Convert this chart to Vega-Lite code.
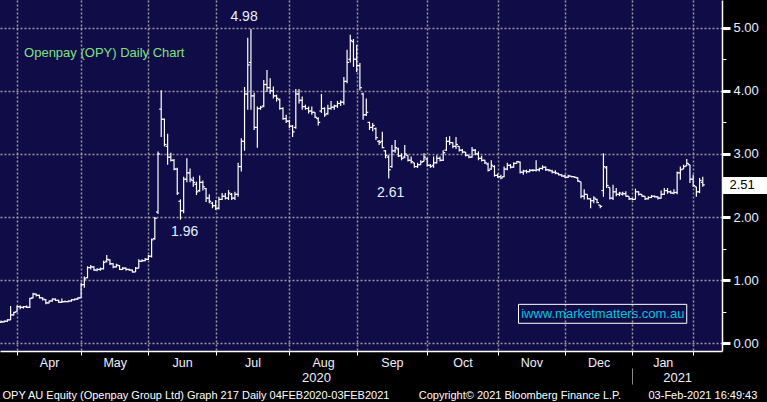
{
  "$schema": "https://vega.github.io/schema/vega-lite/v6.json",
  "width": 722,
  "height": 351,
  "autosize": {"type": "none"},
  "padding": {"left": 0, "top": 0, "right": 45, "bottom": 51},
  "background": "#000000",
  "view": {"fill": "#100c48", "stroke": null},
  "config": {"font": "Liberation Sans", "axis": {"labelFont": "Liberation Sans"}},
  "datasets": {
    "bars": [
      {"t":-1,"o":0.33,"h":0.36,"l":0.32,"c":0.34},{"t":0,"o":0.34,"h":0.36,"l":0.33,"c":0.35},{"t":1,"o":0.35,"h":0.38,"l":0.34,"c":0.37},{"t":2,"o":0.37,"h":0.59,"l":0.37,"c":0.45},{"t":3,"o":0.45,"h":0.5,"l":0.44,"c":0.49},
      {"t":4,"o":0.5,"h":0.6,"l":0.49,"c":0.58},{"t":5,"o":0.58,"h":0.6,"l":0.54,"c":0.57},{"t":6,"o":0.57,"h":0.59,"l":0.55,"c":0.58},{"t":7,"o":0.58,"h":0.6,"l":0.56,"c":0.57},{"t":8,"o":0.57,"h":0.72,"l":0.56,"c":0.71},
      {"t":9,"o":0.72,"h":0.8,"l":0.71,"c":0.78},{"t":10,"o":0.78,"h":0.79,"l":0.74,"c":0.76},{"t":11,"o":0.76,"h":0.77,"l":0.71,"c":0.72},{"t":12,"o":0.72,"h":0.73,"l":0.68,"c":0.7},{"t":13,"o":0.69,"h":0.7,"l":0.62,"c":0.64},
      {"t":14,"o":0.64,"h":0.68,"l":0.63,"c":0.67},{"t":15,"o":0.67,"h":0.71,"l":0.66,"c":0.7},{"t":16,"o":0.7,"h":0.71,"l":0.67,"c":0.68},{"t":17,"o":0.68,"h":0.69,"l":0.64,"c":0.65},{"t":18,"o":0.65,"h":0.71,"l":0.64,"c":0.66},
      {"t":19,"o":0.66,"h":0.68,"l":0.65,"c":0.66},{"t":20,"o":0.66,"h":0.68,"l":0.65,"c":0.67},{"t":21,"o":0.67,"h":0.7,"l":0.66,"c":0.69},{"t":22,"o":0.69,"h":0.71,"l":0.68,"c":0.7},{"t":23,"o":0.7,"h":0.73,"l":0.69,"c":0.72},
      {"t":24,"o":0.72,"h":0.96,"l":0.72,"c":0.93},{"t":25,"o":0.93,"h":1.06,"l":0.88,"c":1.02},{"t":26,"o":1.04,"h":1.22,"l":1.03,"c":1.2},{"t":27,"o":1.2,"h":1.24,"l":1.17,"c":1.21},{"t":28,"o":1.21,"h":1.22,"l":1.15,"c":1.16},
      {"t":29,"o":1.16,"h":1.19,"l":1.14,"c":1.17},{"t":30,"o":1.17,"h":1.2,"l":1.15,"c":1.18},{"t":31,"o":1.18,"h":1.31,"l":1.17,"c":1.28},{"t":32,"o":1.3,"h":1.4,"l":1.28,"c":1.33},{"t":33,"o":1.32,"h":1.33,"l":1.24,"c":1.26},
      {"t":34,"o":1.26,"h":1.27,"l":1.19,"c":1.21},{"t":35,"o":1.21,"h":1.26,"l":1.2,"c":1.24},{"t":36,"o":1.23,"h":1.24,"l":1.16,"c":1.17},{"t":37,"o":1.17,"h":1.21,"l":1.16,"c":1.19},{"t":38,"o":1.19,"h":1.2,"l":1.15,"c":1.17},
      {"t":39,"o":1.17,"h":1.18,"l":1.15,"c":1.16},{"t":40,"o":1.16,"h":1.17,"l":1.12,"c":1.13},{"t":41,"o":1.13,"h":1.21,"l":1.13,"c":1.19},{"t":42,"o":1.19,"h":1.33,"l":1.19,"c":1.3},{"t":43,"o":1.3,"h":1.33,"l":1.29,"c":1.31},
      {"t":44,"o":1.31,"h":1.35,"l":1.3,"c":1.33},{"t":45,"o":1.33,"h":1.4,"l":1.32,"c":1.38},{"t":46,"o":1.38,"h":1.66,"l":1.36,"c":1.64},{"t":47,"o":1.66,"h":2.0,"l":1.64,"c":1.98},{"t":48,"o":2.08,"h":3.04,"l":2.05,"c":3.0},
      {"t":49,"o":3.71,"h":4.01,"l":3.27,"c":3.55},{"t":50,"o":3.55,"h":3.56,"l":3.12,"c":3.15},{"t":51,"o":3.12,"h":3.32,"l":2.83,"c":2.95},{"t":52,"o":2.95,"h":3.02,"l":2.88,"c":2.9},{"t":53,"o":2.9,"h":2.92,"l":2.74,"c":2.76},
      {"t":54,"o":2.76,"h":2.78,"l":2.35,"c":2.38},{"t":55,"o":2.25,"h":2.28,"l":1.96,"c":2.1},{"t":56,"o":2.1,"h":2.64,"l":2.06,"c":2.6},{"t":57,"o":2.6,"h":2.93,"l":2.55,"c":2.7},{"t":58,"o":2.7,"h":2.77,"l":2.55,"c":2.6},
      {"t":59,"o":2.58,"h":2.64,"l":2.48,"c":2.55},{"t":60,"o":2.52,"h":2.56,"l":2.35,"c":2.4},{"t":61,"o":2.42,"h":2.66,"l":2.4,"c":2.55},{"t":62,"o":2.55,"h":2.58,"l":2.42,"c":2.48},{"t":63,"o":2.45,"h":2.46,"l":2.24,"c":2.3},
      {"t":64,"o":2.3,"h":2.36,"l":2.22,"c":2.25},{"t":65,"o":2.22,"h":2.24,"l":2.14,"c":2.18},{"t":66,"o":2.18,"h":2.27,"l":2.11,"c":2.14},{"t":67,"o":2.14,"h":2.32,"l":2.12,"c":2.28},{"t":68,"o":2.28,"h":2.38,"l":2.27,"c":2.33},
      {"t":69,"o":2.33,"h":2.38,"l":2.28,"c":2.3},{"t":70,"o":2.3,"h":2.43,"l":2.27,"c":2.38},{"t":71,"o":2.36,"h":2.38,"l":2.27,"c":2.3},{"t":72,"o":2.3,"h":2.4,"l":2.27,"c":2.36},{"t":73,"o":2.36,"h":2.86,"l":2.32,"c":2.8},
      {"t":74,"o":2.8,"h":3.25,"l":2.72,"c":3.2},{"t":75,"o":3.2,"h":4.06,"l":3.05,"c":3.95},{"t":76,"o":3.95,"h":4.84,"l":3.7,"c":4.41},{"t":77,"o":4.45,"h":4.98,"l":3.7,"c":3.92},{"t":78,"o":3.92,"h":3.97,"l":3.38,"c":3.42},
      {"t":79,"o":3.42,"h":3.75,"l":3.1,"c":3.72},{"t":80,"o":3.72,"h":3.76,"l":3.7,"c":3.74},{"t":81,"o":3.76,"h":4.17,"l":3.74,"c":4.1},{"t":82,"o":4.1,"h":4.33,"l":3.98,"c":4.05},{"t":83,"o":4.05,"h":4.2,"l":3.95,"c":4.0},
      {"t":84,"o":4.0,"h":4.07,"l":3.88,"c":3.92},{"t":85,"o":3.92,"h":3.94,"l":3.83,"c":3.88},{"t":86,"o":3.86,"h":3.88,"l":3.7,"c":3.72},{"t":87,"o":3.72,"h":3.74,"l":3.54,"c":3.56},{"t":88,"o":3.56,"h":3.62,"l":3.49,"c":3.52},
      {"t":89,"o":3.52,"h":3.54,"l":3.41,"c":3.44},{"t":90,"o":3.44,"h":3.46,"l":3.27,"c":3.35},{"t":91,"o":3.42,"h":4.03,"l":3.4,"c":3.95},{"t":92,"o":3.95,"h":4.03,"l":3.8,"c":3.85},{"t":93,"o":3.85,"h":3.91,"l":3.7,"c":3.75},
      {"t":94,"o":3.75,"h":3.78,"l":3.7,"c":3.72},{"t":95,"o":3.72,"h":3.75,"l":3.64,"c":3.68},{"t":96,"o":3.68,"h":3.75,"l":3.62,"c":3.66},{"t":97,"o":3.66,"h":3.66,"l":3.57,"c":3.58},{"t":98,"o":3.56,"h":3.58,"l":3.45,"c":3.5},
      {"t":99,"o":3.68,"h":3.95,"l":3.65,"c":3.72},{"t":100,"o":3.72,"h":3.74,"l":3.59,"c":3.62},{"t":101,"o":3.64,"h":3.78,"l":3.62,"c":3.72},{"t":102,"o":3.72,"h":3.84,"l":3.7,"c":3.74},{"t":103,"o":3.74,"h":3.78,"l":3.7,"c":3.76},
      {"t":104,"o":3.76,"h":3.84,"l":3.73,"c":3.8},{"t":105,"o":3.8,"h":3.85,"l":3.76,"c":3.82},{"t":106,"o":3.82,"h":4.22,"l":3.78,"c":4.15},{"t":107,"o":4.15,"h":4.65,"l":4.12,"c":4.45},{"t":108,"o":4.5,"h":4.89,"l":4.45,"c":4.8},
      {"t":109,"o":4.78,"h":4.82,"l":4.38,"c":4.5},{"t":110,"o":4.5,"h":4.73,"l":4.3,"c":4.4},{"t":111,"o":4.4,"h":4.44,"l":4.01,"c":4.05},{"t":112,"o":3.95,"h":3.97,"l":3.54,"c":3.62},{"t":113,"o":3.62,"h":3.88,"l":3.6,"c":3.66},
      {"t":114,"o":3.5,"h":3.51,"l":3.38,"c":3.42},{"t":115,"o":3.42,"h":3.49,"l":3.36,"c":3.45},{"t":116,"o":3.4,"h":3.42,"l":3.22,"c":3.26},{"t":117,"o":3.2,"h":3.22,"l":3.14,"c":3.18},{"t":118,"o":3.2,"h":3.35,"l":3.09,"c":3.1},
      {"t":119,"o":3.05,"h":3.06,"l":2.93,"c":2.98},{"t":120,"o":2.95,"h":2.98,"l":2.61,"c":2.75},{"t":121,"o":2.8,"h":3.14,"l":2.78,"c":3.05},{"t":122,"o":3.05,"h":3.22,"l":3.02,"c":3.1},{"t":123,"o":3.08,"h":3.1,"l":2.95,"c":2.97},
      {"t":124,"o":2.97,"h":3.01,"l":2.9,"c":2.93},{"t":125,"o":2.95,"h":3.14,"l":2.93,"c":3.0},{"t":126,"o":2.98,"h":2.98,"l":2.88,"c":2.9},{"t":127,"o":2.9,"h":2.96,"l":2.85,"c":2.88},{"t":128,"o":2.86,"h":2.86,"l":2.78,"c":2.8},
      {"t":129,"o":2.8,"h":2.86,"l":2.78,"c":2.83},{"t":130,"o":2.83,"h":2.9,"l":2.83,"c":2.87},{"t":131,"o":2.88,"h":3.01,"l":2.88,"c":2.95},{"t":132,"o":2.92,"h":2.94,"l":2.8,"c":2.82},{"t":133,"o":2.82,"h":2.84,"l":2.78,"c":2.8},
      {"t":134,"o":2.82,"h":2.96,"l":2.78,"c":2.86},{"t":135,"o":2.86,"h":2.98,"l":2.85,"c":2.93},{"t":136,"o":2.93,"h":2.96,"l":2.88,"c":2.9},{"t":137,"o":2.9,"h":3.06,"l":2.89,"c":3.02},{"t":138,"o":3.06,"h":3.27,"l":3.05,"c":3.2},
      {"t":139,"o":3.2,"h":3.28,"l":3.14,"c":3.18},{"t":140,"o":3.18,"h":3.19,"l":3.09,"c":3.12},{"t":141,"o":3.12,"h":3.27,"l":3.08,"c":3.15},{"t":142,"o":3.12,"h":3.12,"l":3.04,"c":3.06},{"t":143,"o":3.06,"h":3.08,"l":3.01,"c":3.03},
      {"t":144,"o":3.03,"h":3.03,"l":2.96,"c":2.98},{"t":145,"o":2.98,"h":2.98,"l":2.93,"c":2.95},{"t":146,"o":2.95,"h":3.11,"l":2.94,"c":3.06},{"t":147,"o":3.06,"h":3.08,"l":2.98,"c":3.0},{"t":148,"o":3.0,"h":3.04,"l":2.9,"c":2.93},
      {"t":149,"o":2.93,"h":2.97,"l":2.88,"c":2.9},{"t":150,"o":2.9,"h":2.91,"l":2.84,"c":2.86},{"t":151,"o":2.84,"h":2.86,"l":2.72,"c":2.74},{"t":152,"o":2.76,"h":2.9,"l":2.75,"c":2.82},{"t":153,"o":2.8,"h":2.82,"l":2.64,"c":2.66},
      {"t":154,"o":2.66,"h":2.69,"l":2.62,"c":2.64},{"t":155,"o":2.64,"h":2.67,"l":2.6,"c":2.62},{"t":156,"o":2.64,"h":2.8,"l":2.63,"c":2.76},{"t":157,"o":2.76,"h":2.86,"l":2.74,"c":2.82},{"t":158,"o":2.82,"h":2.84,"l":2.77,"c":2.79},
      {"t":159,"o":2.79,"h":2.87,"l":2.78,"c":2.85},{"t":160,"o":2.85,"h":2.89,"l":2.85,"c":2.88},{"t":161,"o":2.87,"h":2.88,"l":2.69,"c":2.71},{"t":162,"o":2.71,"h":2.75,"l":2.67,"c":2.73},{"t":163,"o":2.73,"h":2.75,"l":2.69,"c":2.72},
      {"t":164,"o":2.72,"h":2.76,"l":2.71,"c":2.74},{"t":165,"o":2.74,"h":2.76,"l":2.72,"c":2.74},{"t":166,"o":2.74,"h":2.9,"l":2.72,"c":2.75},{"t":167,"o":2.75,"h":2.78,"l":2.72,"c":2.77},{"t":168,"o":2.77,"h":2.82,"l":2.75,"c":2.79},
      {"t":169,"o":2.79,"h":2.8,"l":2.73,"c":2.75},{"t":170,"o":2.75,"h":2.76,"l":2.72,"c":2.74},{"t":171,"o":2.73,"h":2.75,"l":2.69,"c":2.71},{"t":172,"o":2.71,"h":2.74,"l":2.68,"c":2.7},{"t":173,"o":2.69,"h":2.7,"l":2.66,"c":2.67},
      {"t":174,"o":2.67,"h":2.68,"l":2.64,"c":2.65},{"t":175,"o":2.65,"h":2.67,"l":2.62,"c":2.63},{"t":176,"o":2.63,"h":2.67,"l":2.62,"c":2.65},{"t":177,"o":2.65,"h":2.65,"l":2.63,"c":2.64},{"t":178,"o":2.64,"h":2.64,"l":2.62,"c":2.63},
      {"t":179,"o":2.62,"h":2.63,"l":2.56,"c":2.57},{"t":180,"o":2.56,"h":2.56,"l":2.3,"c":2.33},{"t":181,"o":2.33,"h":2.44,"l":2.28,"c":2.36},{"t":182,"o":2.36,"h":2.36,"l":2.28,"c":2.29},{"t":183,"o":2.29,"h":2.3,"l":2.14,"c":2.26},
      {"t":184,"o":2.26,"h":2.33,"l":2.22,"c":2.3},{"t":185,"o":2.28,"h":2.29,"l":2.22,"c":2.23},{"t":186,"o":2.19,"h":2.19,"l":2.14,"c":2.17},{"t":187,"o":2.42,"h":3.01,"l":2.32,"c":2.8},{"t":188,"o":2.78,"h":2.81,"l":2.46,"c":2.5},
      {"t":189,"o":2.47,"h":2.47,"l":2.28,"c":2.3},{"t":190,"o":2.3,"h":2.51,"l":2.27,"c":2.4},{"t":191,"o":2.4,"h":2.46,"l":2.33,"c":2.36},{"t":192,"o":2.36,"h":2.4,"l":2.33,"c":2.38},{"t":193,"o":2.36,"h":2.4,"l":2.34,"c":2.37},
      {"t":194,"o":2.37,"h":2.41,"l":2.32,"c":2.33},{"t":195,"o":2.33,"h":2.33,"l":2.27,"c":2.29},{"t":196,"o":2.29,"h":2.3,"l":2.27,"c":2.28},{"t":197,"o":2.28,"h":2.45,"l":2.28,"c":2.4},{"t":198,"o":2.4,"h":2.41,"l":2.34,"c":2.36},
      {"t":199,"o":2.36,"h":2.36,"l":2.32,"c":2.33},{"t":200,"o":2.33,"h":2.33,"l":2.27,"c":2.29},{"t":201,"o":2.29,"h":2.33,"l":2.28,"c":2.31},{"t":202,"o":2.31,"h":2.35,"l":2.3,"c":2.33},{"t":203,"o":2.33,"h":2.34,"l":2.31,"c":2.32},
      {"t":204,"o":2.32,"h":2.33,"l":2.28,"c":2.3},{"t":205,"o":2.3,"h":2.42,"l":2.29,"c":2.36},{"t":206,"o":2.36,"h":2.46,"l":2.35,"c":2.42},{"t":207,"o":2.42,"h":2.46,"l":2.37,"c":2.4},{"t":208,"o":2.4,"h":2.42,"l":2.37,"c":2.38},
      {"t":209,"o":2.38,"h":2.44,"l":2.36,"c":2.39},{"t":210,"o":2.39,"h":2.72,"l":2.36,"c":2.7},{"t":211,"o":2.7,"h":2.8,"l":2.59,"c":2.75},{"t":212,"o":2.76,"h":2.83,"l":2.76,"c":2.8},{"t":213,"o":2.81,"h":2.92,"l":2.81,"c":2.85},
      {"t":214,"o":2.83,"h":2.83,"l":2.54,"c":2.6},{"t":215,"o":2.6,"h":2.67,"l":2.48,"c":2.5},{"t":216,"o":2.48,"h":2.48,"l":2.32,"c":2.4},{"t":217,"o":2.4,"h":2.62,"l":2.38,"c":2.58},{"t":218,"o":2.55,"h":2.64,"l":2.48,"c":2.51}
    ],
    "notes": [
      {"t": 74.85, "p": 5.17, "label": "4.98"},
      {"t": 56.3, "p": 1.756, "label": "1.96"},
      {"t": 120.6, "p": 2.38, "label": "2.61"}
    ],
    "heading": [{"t": 6.2, "p": 4.6, "label": "Openpay (OPY) Daily Chart"}],
    "box": [{"t": 160.5, "t2": 213.0, "p": 0.617, "p2": 0.317}],
    "site": [{"t": 186.8, "p": 0.464, "label": "iwww.marketmatters.com.au"}]
  },
  "layer": [
    {
      "data": {"name": "bars"},
      "mark": {"type": "rule", "color": "#ffffff", "strokeWidth": 1.2},
      "encoding": {
        "x": {"field": "t", "type": "quantitative", "scale": {"domain": [-1.31, 224.0], "nice": false, "zero": false},
          "axis": {"orient": "bottom", "values": [4, 24, 45, 66, 89, 110, 132, 154, 175, 196, 215], "grid": true, "gridColor": "#9a9a9a", "gridDash": [2, 2], "gridWidth": 1.5, "labels": false, "ticks": true, "tickSize": 4, "tickColor": "#ffffff", "domain": true, "domainColor": "#ffffff", "domainWidth": 1.5, "title": null}},
        "y": {"field": "l", "type": "quantitative", "scale": {"domain": [-0.122, 5.439], "nice": false, "zero": false},
          "axis": {"orient": "right", "values": [0, 0.5, 1, 1.5, 2, 2.5, 3, 3.5, 4, 4.5, 5], "grid": true, "gridColor": "#9a9a9a", "gridDash": [2, 2], "gridWidth": 1.5,
            "gridOpacity": {"condition": {"test": "datum.value % 1 === 0", "value": 1}, "value": 0},
            "tickSize": {"condition": {"test": "datum.value % 1 === 0", "value": 8}, "value": 4},
            "tickWidth": {"condition": {"test": "datum.value % 1 === 0", "value": 3}, "value": 1},
            "tickColor": "#ffffff", "domainColor": "#ffffff", "domainWidth": 1.5,
            "labelExpr": "datum.value % 1 === 0 ? format(datum.value, '.2f') : ''",
            "labelColor": "#e8f0ff", "labelFontSize": 13, "labelPadding": 3, "labelOverlap": false, "labelBound": false, "title": null}},
        "y2": {"field": "h"}
      }
    },
    {
      "data": {"name": "bars"},
      "mark": {"type": "tick", "orient": "horizontal", "size": 2, "thickness": 1.2, "xOffset": -1, "color": "#ffffff", "opacity": 1},
      "encoding": {
        "x": {"field": "t", "type": "quantitative", "scale": {"domain": [-1.31, 224.0], "nice": false, "zero": false},
          "axis": {"orient": "bottom", "values": [14, 34.5, 55.5, 77.5, 99.5, 121, 143, 164.5, 185.5, 205.5],
            "labelExpr": "['Apr','May','Jun','Jul','Aug','Sep','Oct','Nov','Dec','Jan'][indexof([14, 34.5, 55.5, 77.5, 99.5, 121, 143, 164.5, 185.5, 205.5], datum.value)]",
            "grid": false, "ticks": false, "domain": false, "labelPadding": 5, "labelFontSize": 12.5, "labelColor": "#f0f0ff", "labelOverlap": false, "labelBound": false, "labelFlush": false, "title": null}},
        "y": {"field": "o", "type": "quantitative", "scale": {"domain": [-0.122, 5.439], "nice": false, "zero": false},
          "axis": {"orient": "right", "values": [2.51], "grid": false, "domain": false, "ticks": true, "tickSize": 45, "tickWidth": 17, "tickColor": "#ffffff",
            "labelExpr": "'2.51'", "labelColor": "#000000", "labelFontSize": 13, "labelPadding": -38, "labelBound": false, "title": null}}
      }
    },
    {
      "data": {"name": "bars"},
      "mark": {"type": "tick", "orient": "horizontal", "size": 2, "thickness": 1.2, "xOffset": 1, "color": "#ffffff", "opacity": 1},
      "encoding": {
        "x": {"field": "t", "type": "quantitative", "scale": {"domain": [-1.31, 224.0], "nice": false, "zero": false},
          "axis": {"orient": "bottom", "values": [97.3, 210], "labelExpr": "datum.value < 150 ? '2020' : '2021'", "grid": false, "ticks": false, "domain": false, "labelPadding": 20, "labelFontSize": 13, "labelColor": "#f0f0ff", "labelOverlap": false, "labelBound": false, "labelFlush": false, "title": null}},
        "y": {"field": "c", "type": "quantitative", "scale": {"domain": [-0.122, 5.439], "nice": false, "zero": false}, "axis": null}
      }
    },
    {
      "data": {"name": "notes"},
      "mark": {"type": "text", "align": "center", "baseline": "middle", "fontSize": 14, "color": "#e6f0ff"},
      "encoding": {
        "x": {"field": "t", "type": "quantitative", "scale": {"domain": [-1.31, 224.0], "nice": false, "zero": false},
          "axis": {"orient": "bottom", "values": [196], "labels": false, "grid": false, "domain": false, "ticks": true, "tickSize": 16, "tickColor": "#8a8a8a", "tickWidth": 1, "offset": 17, "title": null}},
        "y": {"field": "p", "type": "quantitative", "scale": {"domain": [-0.122, 5.439], "nice": false, "zero": false}, "axis": null},
        "text": {"field": "label"}
      }
    },
    {
      "data": {"name": "heading"},
      "mark": {"type": "text", "align": "left", "baseline": "middle", "fontSize": 13, "color": "#80e080"},
      "encoding": {
        "x": {"field": "t", "type": "quantitative", "scale": {"domain": [-1.31, 224.0], "nice": false, "zero": false},
          "axis": {"orient": "bottom", "values": [-0.68, 129.2, 200.9],
            "labelExpr": "datum.value < 0 ? 'OPY AU Equity (Openpay Group Ltd) Graph 217  Daily 04FEB2020-03FEB2021' : datum.value < 150 ? 'Copyright\u00a9 2021 Bloomberg Finance L.P.' : '03-Feb-2021 16:49:43'",
            "labelAlign": "left", "grid": false, "ticks": false, "domain": false, "labelPadding": 38, "labelFontSize": 11, "labelLimit": 0, "labelColor": "#ffffff", "labelOverlap": false, "labelBound": false, "labelFlush": false, "title": null}},
        "y": {"field": "p", "type": "quantitative", "scale": {"domain": [-0.122, 5.439], "nice": false, "zero": false}, "axis": null},
        "text": {"field": "label"}
      }
    },
    {
      "data": {"name": "box"},
      "mark": {"type": "rect", "fillOpacity": 0, "stroke": "#ffffff", "strokeWidth": 1},
      "encoding": {
        "x": {"field": "t", "type": "quantitative", "scale": {"domain": [-1.31, 224.0], "nice": false, "zero": false}, "axis": null},
        "x2": {"field": "t2"},
        "y": {"field": "p", "type": "quantitative", "scale": {"domain": [-0.122, 5.439], "nice": false, "zero": false}, "axis": null},
        "y2": {"field": "p2"}
      }
    },
    {
      "data": {"name": "site"},
      "mark": {"type": "text", "align": "center", "baseline": "middle", "fontSize": 13, "color": "#00c4dc"},
      "encoding": {
        "x": {"field": "t", "type": "quantitative", "scale": {"domain": [-1.31, 224.0], "nice": false, "zero": false}, "axis": null},
        "y": {"field": "p", "type": "quantitative", "scale": {"domain": [-0.122, 5.439], "nice": false, "zero": false}, "axis": null},
        "text": {"field": "label"}
      }
    }
  ],
  "resolve": {"axis": {"x": "independent", "y": "independent"}}
}
